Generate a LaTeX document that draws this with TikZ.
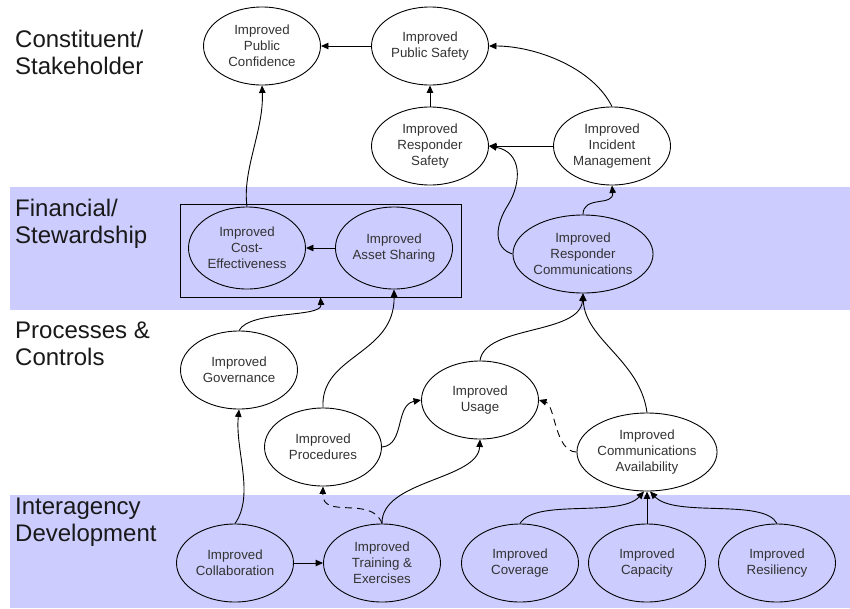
\documentclass[tikz,border=0pt]{standalone}
\usepackage{fontspec}
\setmainfont{Liberation Sans}
\usetikzlibrary{shapes.geometric,arrows.meta}
\definecolor{band}{HTML}{CCCCFF}
\definecolor{txt}{HTML}{333333}
\begin{document}
\begin{tikzpicture}[x=1pt,y=-1pt,
  ell/.style={draw, line width=0.9pt, ellipse, minimum width=117pt, minimum height=78pt, inner sep=0pt, align=center, font=\fontsize{13.3}{16}\selectfont, text=txt},
  wide/.style={ell, minimum width=136pt},
  lbl/.style={anchor=north west, align=left, font=\fontsize{24}{27}\selectfont, inner sep=0pt, text=black!90},
  arr/.style={-{Triangle[length=7.5pt,width=6.5pt]}, line width=0.9pt},
  darr/.style={arr, dash pattern=on 7pt off 5pt}]
\useasboundingbox (0,0) rectangle (850,608);
\fill[white] (0,0) rectangle (850,608);
% bands
\fill[band] (10,187) rectangle (850,310);
\fill[band] (10,495) rectangle (850,608);
% band labels
\node[lbl] (l1) at (15,30) {Constituent/\\Stakeholder};
\node[lbl] (l2) at (15,199) {Financial/\\Stewardship};
\node[lbl] (l3) at (15,322) {Processes \&\\Controls};
\node[lbl] (l4) at (15,498) {Interagency\\Development};
% nodes
\node[ell] (conf) at (262,46) {Improved\\Public\\Confidence};
\node[ell] (psafe) at (430,46) {Improved\\Public Safety};
\node[ell] (rsafe) at (430,146) {Improved\\Responder\\Safety};
\node[ell] (incid) at (612,146) {Improved\\Incident\\Management};
\node[ell, minimum height=82pt] (cost) at (247,248) {Improved\\Cost-\\Effectiveness};
\node[ell, minimum height=82pt] (asset) at (394,248) {Improved\\Asset Sharing};
\node[draw, line width=0.9pt, minimum width=281pt, minimum height=93pt, inner sep=0pt] (box) at (320.5,250.5) {};
\node[wide] (rcomm) at (583,254) {Improved\\Responder\\Communications};
\node[ell] (gov) at (239,370) {Improved\\Governance};
\node[ell] (proc) at (323,447) {Improved\\Procedures};
\node[ell] (usage) at (480,400) {Improved\\Usage};
\node[wide] (avail) at (647,452) {Improved\\Communications\\Availability};
\node[ell] (collab) at (235,563) {Improved\\Collaboration};
\node[ell] (train) at (382,563) {Improved\\Training \&\\Exercises};
\node[ell] (cover) at (520,563) {Improved\\Coverage};
\node[ell] (capac) at (647,563) {Improved\\Capacity};
\node[ell] (resil) at (777,563) {Improved\\Resiliency};
% connectors
\draw[arr] (psafe.west) -- (conf.east);
\draw[arr] (rsafe.north) -- (psafe.south);
\draw[arr] (incid.north) .. controls +(-20,-40) and +(45,0) .. (psafe.east);
\draw[arr] (incid.west) -- (rsafe.east);
\draw[arr] (rcomm.west) .. controls (493,248) and (495,225) .. (508,205) .. controls (522,182) and (522,152) .. (rsafe.east);
\draw[arr] (rcomm.north) .. controls (583,195) and (614,207) .. (incid.south);
\draw[arr] (cost.north) .. controls (242,170) and (264,130) .. (conf.south);
\draw[arr] (asset.west) -- (cost.east);
\draw[arr] (gov.north) .. controls (250,310) and (322,318) .. (box.south);
\draw[arr] (proc.north) .. controls (320,355) and (395,355) .. (asset.south);
\draw[arr] (proc.east) .. controls (405,445) and (395,405) .. (usage.west);
\draw[arr] (train.north) .. controls (381,480) and (478,480) .. (usage.south);
\draw[darr] (train.north) .. controls (372,495) and (322,520) .. (proc.south);
\draw[arr] (usage.north) .. controls (485,325) and (580,335) .. (rcomm.south);
\draw[arr] (avail.north) .. controls (640,360) and (585,340) .. (rcomm.south);
\draw[darr] (avail.west) .. controls (555,452) and (555,405) .. (usage.east);
\draw[arr] (collab.north) .. controls (255,495) and (235,450) .. (gov.south);
\draw[arr] (collab.east) -- (train.west);
\draw[arr] (cover.north) .. controls (535,498) and (620,518) .. ([xshift=-3pt]avail.south);
\draw[arr] (capac.north) -- (avail.south);
\draw[arr] (resil.north) .. controls (764,498) and (675,518) .. ([xshift=3pt]avail.south);
\end{tikzpicture}
\end{document}
